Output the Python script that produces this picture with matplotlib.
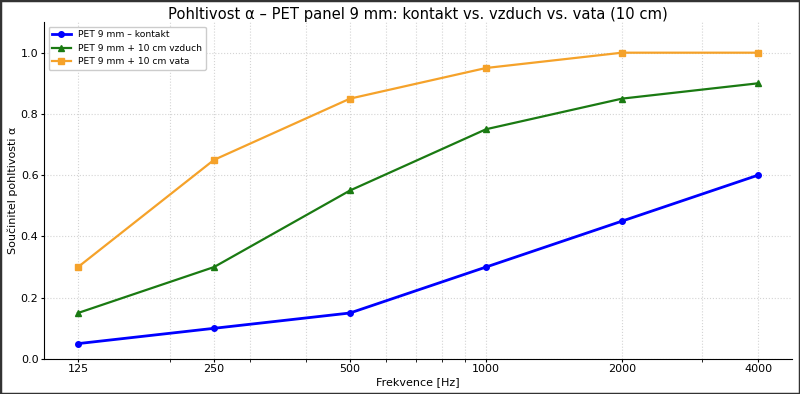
import numpy as np
import matplotlib.pyplot as plt
from matplotlib.ticker import FixedLocator, FixedFormatter, LogLocator, NullFormatter

freqs = [125, 250, 500, 1000, 2000, 4000]
freq_labels = ["125", "250", "500", "1000", "2000", "4000"]
kontakt = [0.05, 0.10, 0.15, 0.30, 0.45, 0.60]
vzduch = [0.15, 0.30, 0.55, 0.75, 0.85, 0.90]
vata = [0.30, 0.65, 0.85, 0.95, 1.00, 1.00]

fig = plt.figure(figsize=(8, 3.94), dpi=100)
ax = fig.add_axes([0.055, 0.089, 0.935, 0.855])

ax.plot(freqs, kontakt, color='blue', marker='o', markersize=4, linewidth=2, label='PET 9 mm – kontakt')
ax.plot(freqs, vzduch, color='#1a7a12', marker='^', markersize=4, linewidth=1.6, label='PET 9 mm + 10 cm vzduch')
ax.plot(freqs, vata, color='#f5a22a', marker='s', markersize=4, linewidth=1.6, label='PET 9 mm + 10 cm vata')

ax.set_xscale('log')
ax.xaxis.set_major_locator(FixedLocator(freqs))
ax.xaxis.set_major_formatter(FixedFormatter(freq_labels))
ax.xaxis.set_minor_locator(LogLocator(base=10, subs=np.arange(2, 10)))
ax.xaxis.set_minor_formatter(NullFormatter())
ax.set_ylim(0, 1.1)
ax.set_yticks([0.0, 0.2, 0.4, 0.6, 0.8, 1.0])

ax.grid(True, which='both', linestyle=':', color='#d4d4d4', linewidth=0.8)
for s in ['top', 'right']:
    ax.spines[s].set_visible(False)
ax.tick_params(labelsize=8, length=2, pad=2)
ax.tick_params(which='minor', length=2)

ax.set_title('Pohltivost α – PET panel 9 mm: kontakt vs. vzduch vs. vata (10 cm)', fontsize=10.6, pad=2)
ax.set_xlabel('Frekvence [Hz]', fontsize=8, labelpad=2)
ax.set_ylabel('Součinitel pohltivosti α', fontsize=8, labelpad=2)
ax.legend(loc='upper left', fontsize=6.6, handlelength=2, framealpha=1)

fig.patches.append(plt.Rectangle((0, 0), 1, 1, transform=fig.transFigure, fill=False,
                                 edgecolor='#333333', linewidth=2.5))
fig.savefig('out.png', dpi=100)
